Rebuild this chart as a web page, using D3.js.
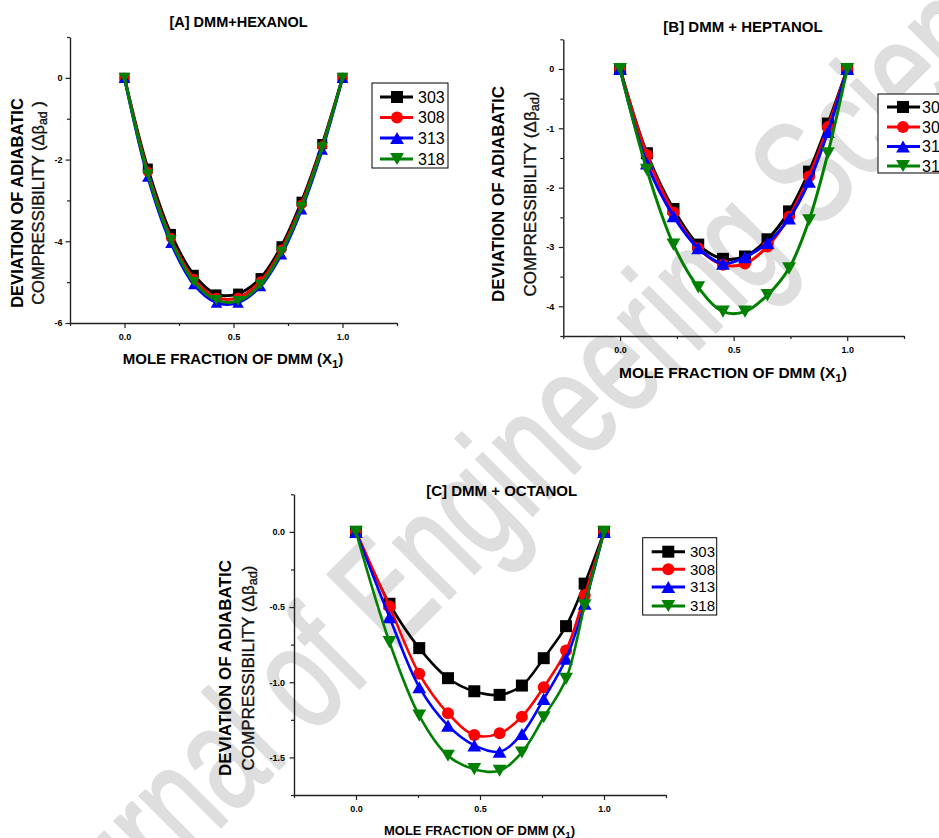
<!DOCTYPE html>
<html><head><meta charset="utf-8">
<script src="https://cdn.jsdelivr.net/npm/d3@7"></script>
<style>
body{margin:0;background:#fff;}
svg{display:block;}
text{font-family:Arial,"Liberation Sans",sans-serif;}
</style>
</head><body>
<svg id="c" width="939" height="838"></svg>
<script>
// ---------------- DATA ----------------
const seriesNames = ["303", "308", "313", "318"];
const seriesColors = ["#000000", "#ff0000", "#0000ff", "#008000"];
const seriesShapes = ["square", "circle", "triangleUp", "triangleDown"];

const xTickValues = [0, 0.5, 1.0];
const xTickLabels = ["0.0", "0.5", "1.0"];
const xMinorTicks = [-0.25, 0.25, 0.75, 1.25];

// [A] DMM + HEXANOL
const hexanolX   = [0, 0.107, 0.213, 0.318, 0.422, 0.521, 0.624, 0.720, 0.812, 0.907, 1.0];
const hexanol303 = [0, -2.22, -3.82, -4.82, -5.30, -5.28, -4.90, -4.12, -3.03, -1.62, 0];
const hexanol308 = [0, -2.30, -3.92, -4.92, -5.38, -5.38, -4.98, -4.20, -3.10, -1.67, 0];
const hexanol313 = [0, -2.42, -4.04, -5.05, -5.50, -5.50, -5.10, -4.32, -3.22, -1.76, 0];
const hexanol318 = [0, -2.36, -3.97, -4.99, -5.44, -5.46, -5.06, -4.26, -3.16, -1.70, 0];
const hexanolYTicks = [-6, -4, -2, 0];
const hexanolYTickLabels = ["-6", "-4", "-2", "0"];
const hexanolYMinor = [-5, -3, -1, 1];

// [B] DMM + HEPTANOL
const heptanolX   = [0, 0.118, 0.235, 0.344, 0.453, 0.550, 0.649, 0.744, 0.832, 0.915, 1.0];
const heptanol303 = [0, -1.42, -2.36, -2.96, -3.20, -3.16, -2.87, -2.40, -1.73, -0.92, 0];
const heptanol308 = [0, -1.45, -2.42, -3.02, -3.30, -3.28, -2.99, -2.49, -1.81, -0.98, 0];
const heptanol313 = [0, -1.59, -2.48, -3.02, -3.28, -3.17, -2.93, -2.52, -1.90, -1.06, 0];
const heptanol318 = [0, -1.70, -2.96, -3.68, -4.09, -4.09, -3.81, -3.36, -2.55, -1.42, 0];
const heptanolYTicks = [-4, -3, -2, -1, 0];
const heptanolYTickLabels = ["-4", "-3", "-2", "-1", "0"];
const heptanolYMinor = [-4.5, -3.5, -2.5, -1.5, -0.5, 0.5];

// [C] DMM + OCTANOL
const octanolX   = [0, 0.135, 0.255, 0.371, 0.477, 0.579, 0.669, 0.757, 0.847, 0.922, 1.0];
const octanol303 = [0, -0.478, -0.773, -0.973, -1.060, -1.084, -1.022, -0.840, -0.627, -0.344, 0];
const octanol308 = [0, -0.496, -0.944, -1.207, -1.351, -1.340, -1.229, -1.033, -0.789, -0.422, 0];
const octanol313 = [0, -0.567, -1.033, -1.289, -1.420, -1.462, -1.344, -1.111, -0.844, -0.478, 0];
const octanol318 = [0, -0.733, -1.222, -1.489, -1.578, -1.589, -1.467, -1.233, -0.978, -0.489, 0];
const octanolYTicks = [-1.5, -1.0, -0.5, 0.0];
const octanolYTickLabels = ["-1.5", "-1.0", "-0.5", "0.0"];
const octanolYMinor = [-1.75, -1.25, -0.75, -0.25, 0.25];

const watermarkText = "Journal of Engineering Science";

// ---------------- DRAWING ----------------
const svg = d3.select("#c");

svg.append("text")
  .attr("transform", "translate(45,1003) rotate(-45)")
  .attr("font-size", 150)
  .attr("textLength", 1464).attr("lengthAdjust", "spacingAndGlyphs")
  .attr("fill", "#dedede").attr("stroke", "#dedede").attr("stroke-width", 2.5)
  .attr("stroke-linejoin", "round").attr("stroke-linecap", "round")
  .text(watermarkText);

function markerPath(shape, s) {
  const h = s / 2;
  if (shape === "square") return `M${-h},${-h}H${h}V${h}H${-h}Z`;
  if (shape === "circle") return `M${h},0A${h},${h} 0 1,1 ${-h},0A${h},${h} 0 1,1 ${h},0Z`;
  const th = s * 0.88 / 2;
  if (shape === "triangleUp") return `M0,${-th}L${h},${th}L${-h},${th}Z`;
  return `M0,${th}L${h},${-th}L${-h},${-th}Z`;
}

function panel(cfg) {
  const g = svg.append("g");
  const x = d3.scaleLinear().domain([-0.25, 1.25]).range(cfg.xr);
  const y = d3.scaleLinear().domain(cfg.yd).range(cfg.yr);

  const axisColor = "#222";
  const xMinor = g.append("g").attr("transform", `translate(0,${cfg.yr[0]})`)
    .call(d3.axisBottom(x).tickValues(xMinorTicks).tickSize(3).tickSizeOuter(0).tickFormat(""));
  const yMinor = g.append("g").attr("transform", `translate(${cfg.xr[0]},0)`)
    .call(d3.axisLeft(y).tickValues(cfg.yMinor).tickSize(3).tickSizeOuter(0).tickFormat(""));
  [xMinor, yMinor].forEach(a => { a.select(".domain").remove(); a.selectAll("line").attr("stroke", axisColor).attr("stroke-width", 1.2); });

  const xa = g.append("g").attr("transform", `translate(0,${cfg.yr[0]})`)
    .call(d3.axisBottom(x).tickValues(xTickValues).tickSize(5).tickSizeOuter(0).tickPadding(5.5)
      .tickFormat((d, i) => xTickLabels[i]));
  const ya = g.append("g").attr("transform", `translate(${cfg.xr[0]},0)`)
    .call(d3.axisLeft(y).tickValues(cfg.yTicks).tickSize(4.5).tickSizeOuter(0).tickPadding(cfg.yPad)
      .tickFormat((d, i) => cfg.yLabels[i]));
  [xa, ya].forEach(a => {
    a.select(".domain").attr("stroke", axisColor).attr("stroke-width", 1.4);
    a.selectAll("line").attr("stroke", axisColor).attr("stroke-width", 1.2);
    a.selectAll("text").attr("font-size", 9).attr("font-weight", "bold").attr("fill", "#000")
      .attr("font-family", 'Arial, "Liberation Sans", sans-serif');
  });

  const line = d3.line().curve(d3.curveCatmullRom.alpha(0.5)).x(d => x(d[0])).y(d => y(d[1]));
  cfg.series.forEach((vals, i) => {
    const pts = cfg.xs.map((xv, k) => [xv, vals[k]]);
    g.append("path").attr("d", line(pts)).attr("fill", "none")
      .attr("stroke", seriesColors[i]).attr("stroke-width", cfg.lw).attr("stroke-linejoin", "round");
    g.selectAll(null).data(pts).enter().append("path")
      .attr("transform", d => `translate(${x(d[0])},${y(d[1])})`)
      .attr("d", markerPath(seriesShapes[i], seriesShapes[i].startsWith("tri") ? cfg.ms * 1.15 : cfg.ms))
      .attr("fill", seriesColors[i]);
  });

  g.append("text").attr("x", cfg.title[0]).attr("y", cfg.title[1]).attr("text-anchor", "middle")
    .attr("font-size", cfg.titleSize).attr("font-weight", "bold").text(cfg.titleText);

  g.append("text").attr("transform", `translate(${cfg.yl1x},${cfg.ylc}) rotate(-90)`)
    .attr("text-anchor", "middle").attr("font-size", cfg.ylSize).attr("font-weight", "bold")
    .text(cfg.yl1Text);
  const yl2 = g.append("text").attr("transform", `translate(${cfg.yl2x},${cfg.ylc}) rotate(-90)`)
    .attr("text-anchor", "middle").attr("font-size", cfg.ylSize).attr("fill", "#111")
    .attr("stroke", "#111").attr("stroke-width", 0.35);
  yl2.append("tspan").text("COMPRESSIBILITY (\u0394\u03b2");
  yl2.append("tspan").attr("font-size", cfg.ylSize * 0.75).attr("dy", cfg.ylSize * 0.2).text("ad");
  yl2.append("tspan").attr("dy", -cfg.ylSize * 0.2).text(cfg.yl2End);

  const xl = g.append("text").attr("x", cfg.xl[0]).attr("y", cfg.xl[1]).attr("text-anchor", "middle")
    .attr("font-size", cfg.xlSize).attr("font-weight", "bold");
  xl.append("tspan").text("MOLE FRACTION OF DMM (X");
  xl.append("tspan").attr("font-size", cfg.xlSize * 0.75).attr("dy", cfg.xlSize * 0.25).text("1");
  xl.append("tspan").attr("dy", -cfg.xlSize * 0.25).text(")");

  const L = cfg.legend;
  g.append("rect").attr("x", L.box[0]).attr("y", L.box[1]).attr("width", L.box[2]).attr("height", L.box[3])
    .attr("fill", "#fff").attr("stroke", "#000").attr("stroke-width", 1);
  seriesNames.forEach((nm, i) => {
    const ry = L.rows[i];
    g.append("line").attr("x1", L.line[0]).attr("x2", L.line[1]).attr("y1", ry).attr("y2", ry)
      .attr("stroke", seriesColors[i]).attr("stroke-width", 3);
    g.append("path").attr("transform", `translate(${L.mx},${ry})`)
      .attr("d", markerPath(seriesShapes[i], seriesShapes[i].startsWith("tri") ? L.ms * 1.15 : L.ms))
      .attr("fill", seriesColors[i]);
    g.append("text").attr("x", L.tx).attr("y", ry).attr("dy", "0.36em")
      .attr("font-size", L.fs).text(nm);
  });
}

panel({
  xr: [70, 397], yr: [323, 37], yd: [-6, 1],
  yTicks: hexanolYTicks, yLabels: hexanolYTickLabels, yMinor: hexanolYMinor, yPad: 3,
  xs: hexanolX, series: [hexanol303, hexanol308, hexanol313, hexanol318],
  lw: 3, ms: 10,
  title: [238.5, 27], titleText: "[A] DMM+HEXANOL", titleSize: 14.5,
  yl1x: 22.5, yl2x: 43.5, ylc: 203, ylSize: 16.5, yl1Text: "DEVIATION OF ADIABATIC", yl2End: " )",
  xl: [233, 364], xlSize: 15,
  legend: { box: [372, 83, 76, 85], rows: [97, 117.5, 138, 159], line: [380, 413], mx: 397, tx: 418, fs: 16, ms: 12 }
});

panel({
  xr: [563.3, 904], yr: [336, 39.3], yd: [-4.5, 0.5],
  yTicks: heptanolYTicks, yLabels: heptanolYTickLabels, yMinor: heptanolYMinor, yPad: 4.5,
  xs: heptanolX, series: [heptanol303, heptanol308, heptanol313, heptanol318],
  lw: 3, ms: 12,
  title: [743, 31.5], titleText: "[B] DMM + HEPTANOL", titleSize: 15,
  yl1x: 504, yl2x: 535.5, ylc: 194, ylSize: 17, yl1Text: "DEVIATION OF  ADIABATIC", yl2End: ")",
  xl: [733, 378], xlSize: 15.5,
  legend: { box: [878, 94, 76, 79], rows: [107, 127, 146.5, 166], line: [887, 920], mx: 903, tx: 922, fs: 16, ms: 12 }
});

panel({
  xr: [294, 666], yr: [795, 494.3], yd: [-1.75, 0.25],
  yTicks: octanolYTicks, yLabels: octanolYTickLabels, yMinor: octanolYMinor, yPad: 4.5,
  xs: octanolX, series: [octanol303, octanol308, octanol313, octanol318],
  lw: 2.6, ms: 12,
  title: [501.7, 496], titleText: "[C] DMM + OCTANOL", titleSize: 15,
  yl1x: 231, yl2x: 254, ylc: 668, ylSize: 17, yl1Text: "DEVIATION OF ADIABATIC", yl2End: ")",
  xl: [479.5, 835], xlSize: 13,
  legend: { box: [642.7, 537.7, 74, 77.3], rows: [551.7, 569.3, 587, 606], line: [651.7, 685], mx: 668.3, tx: 690, fs: 15, ms: 12 }
});
</script>
</body></html>
